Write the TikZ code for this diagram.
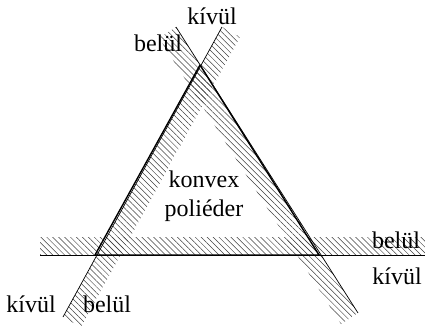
\documentclass[tikz,border=0pt]{standalone}
\usepackage{fontspec}
\setmainfont{Liberation Serif}
\usetikzlibrary{patterns.meta}

\begin{document}
\begin{tikzpicture}[
  x=1pt, y=-1pt,
  band/.style={pattern={Lines[angle=-45,distance=4.2pt,line width=0.5pt]},
               pattern color=black!75},
  halfplane/.style={line width=0.7pt},
  poly/.style={line width=1.4pt, line join=round},
  lbl/.style={inner sep=0pt, font=\fontsize{24}{29}\selectfont}
]
\useasboundingbox (0,0) rectangle (425,327);
% vertices of the polyhedron
\coordinate (top) at (200,65);
\coordinate (bl) at (95,255);
\coordinate (br) at (319,255);
% ends of the bounding lines
\coordinate (lA) at (63,317);
\coordinate (lB) at (222,27);
\coordinate (rA) at (176,27);
\coordinate (rB) at (358,313);
\coordinate (hA) at (40,255);
\coordinate (hB) at (425,255);
% hatched inner sides
\fill[band] (lA) -- (lB) -- (240,37) -- (81,327) -- cycle;
\fill[band] (rA) -- (rB) -- (341,324) -- (159,38) -- cycle;
\fill[band] (hA) -- (hB) -- (425,237) -- (40,237) -- cycle;
% lines
\draw[halfplane] (lA) -- (lB);
\draw[halfplane] (rA) -- (rB);
\draw[halfplane] (hA) -- (hB);
\draw[poly] (top) -- (bl) -- (br) -- cycle;
% labels
\node[lbl] (kivT) at (212,16) {kívül};
\node[lbl] (belT) at (158,43) {belül};
\node[lbl] (kivL) at (31,304) {kívül};
\node[lbl] (belL) at (107,304) {belül};
\node[lbl] (belR) at (396,240) {belül};
\node[lbl] (kivR) at (397,276) {kívül};
\node[lbl, align=center] (poly) at (204,196) {konvex\\poliéder};
\end{tikzpicture}
\end{document}
